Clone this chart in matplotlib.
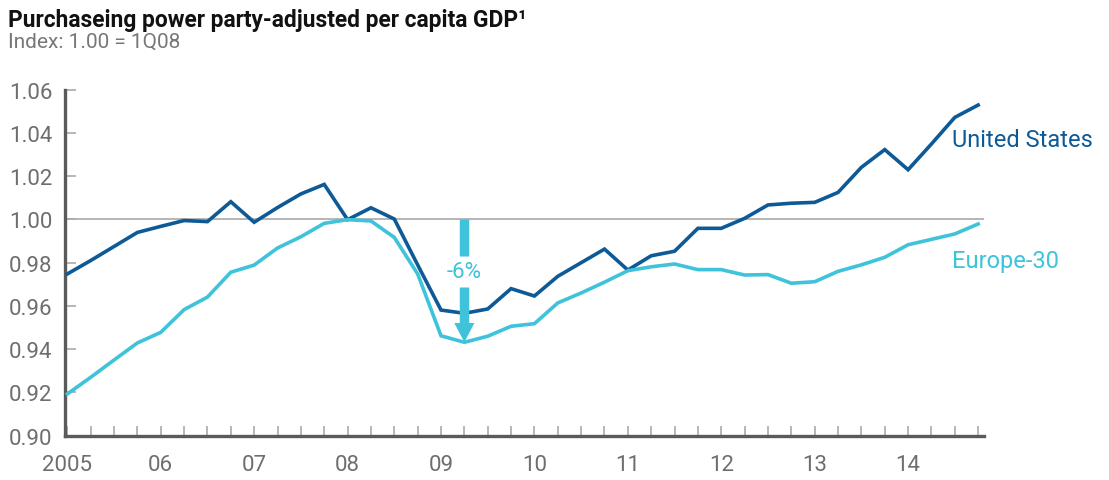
import matplotlib
matplotlib.use("Agg")
import matplotlib.pyplot as plt
import numpy as np

plt.rcParams['font.family'] = ['Roboto', 'DejaVu Sans']

# Quarterly data, 2005Q1 .. 2014Q4
quarters = [f"{y}Q{q}" for y in range(2005, 2015) for q in range(1, 5)]
us = [0.9748, 0.9810, 0.9875, 0.9940, 0.9968, 0.9995, 0.9990, 1.0082,
      0.9987, 1.0055, 1.0118, 1.0162, 0.9999, 1.0054, 1.0002, 0.9790,
      0.9581, 0.9566, 0.9586, 0.9680, 0.9646, 0.9737, 0.9800, 0.9863,
      0.9766, 0.9832, 0.9853, 0.9959, 0.9959, 1.0005, 1.0067, 1.0075,
      1.0079, 1.0125, 1.0241, 1.0323, 1.0230, 1.0349, 1.0472, 1.0529]
europe = [0.9193, 0.9270, 0.9350, 0.9429, 0.9478, 0.9583, 0.9641, 0.9756,
          0.9789, 0.9868, 0.9920, 0.9982, 0.9999, 0.9993, 0.9917, 0.9748,
          0.9462, 0.9432, 0.9460, 0.9506, 0.9518, 0.9614, 0.9660, 0.9710,
          0.9763, 0.9781, 0.9794, 0.9768, 0.9768, 0.9743, 0.9745, 0.9705,
          0.9712, 0.9760, 0.9790, 0.9825, 0.9883, 0.9908, 0.9933, 0.9979]
year_labels = ["2005", "06", "07", "08", "09", "10", "11", "12", "13", "14"]
y_ticks = [0.90, 0.92, 0.94, 0.96, 0.98, 1.00, 1.02, 1.04, 1.06]
drop_label = "-6%"
drop_quarter = 17  # 2009Q2

US_C = "#0d5a97"
EU_C = "#3ec3da"
GRAY = "#6e6e6e"

W, H = 1109, 481
fig = plt.figure(figsize=(W / 100, H / 100), dpi=100)
ax = fig.add_axes([65 / W, 1 - 436.7 / H, (984 - 65) / W, (436.7 - 90.7) / H])

x = np.arange(len(quarters))
ax.axhline(1.0, color="#b0b0b0", lw=1.3, zorder=1)
ax.plot(x, us, color=US_C, lw=2.6, zorder=3, solid_joinstyle="miter")
ax.plot(x, europe, color=EU_C, lw=2.6, zorder=3, solid_joinstyle="miter")

ax.set_xlim(-0.1, 39.25)
ax.set_ylim(0.90, 1.06)

ax.set_yticks(y_ticks)
ax.set_yticklabels([f"{v:.2f}" for v in y_ticks])
ax.set_xticks(np.arange(0, 40, 4))
ax.set_xticklabels(year_labels)
ax.set_xticks(np.arange(0, 40), minor=True)

ax.tick_params(axis="y", direction="in", length=8, width=1.2, color="#aaaaaa",
               labelsize=16, labelcolor=GRAY, pad=9)
ax.tick_params(axis="x", which="both", direction="in", length=7, width=1.2,
               color="#aaaaaa", labelsize=16, labelcolor=GRAY, pad=13.5)

for s in ["top", "right"]:
    ax.spines[s].set_visible(False)
for s in ["left", "bottom"]:
    ax.spines[s].set_color("#5a5a5a")
    ax.spines[s].set_linewidth(2.4)

# drop arrow
xq = drop_quarter
ax.plot([xq, xq], [1.0, 0.9830], color=EU_C, lw=6.8, solid_capstyle="butt", zorder=4)
ax.plot([xq, xq], [0.9686, 0.9521], color=EU_C, lw=6.8, solid_capstyle="butt", zorder=4)
hw = 0.43
ax.fill([xq - hw, xq + hw, xq], [0.9521, 0.9521, europe[xq]], color=EU_C,
        lw=0, zorder=4)
ax.text(xq, 0.9758, drop_label, color=EU_C, fontsize=16, ha="center", va="center",
        zorder=5)

ax.text(37.86, 1.0372, "United States", color=US_C, fontsize=17, ha="left",
        va="center")
ax.text(37.86, 0.9809, "Europe-30", color=EU_C, fontsize=17, ha="left",
        va="center")

fig.text(8 / W, 1 - 26.7 / H, "Purchaseing power party-adjusted per capita GDP¹",
         fontsize=16.4, fontweight="bold", color="#111111", ha="left",
         va="baseline")
fig.text(8 / W, 1 - 48 / H, "Index: 1.00 = 1Q08", fontsize=15, color="#777777",
         ha="left", va="baseline")

fig.savefig("out.png", dpi=100)
